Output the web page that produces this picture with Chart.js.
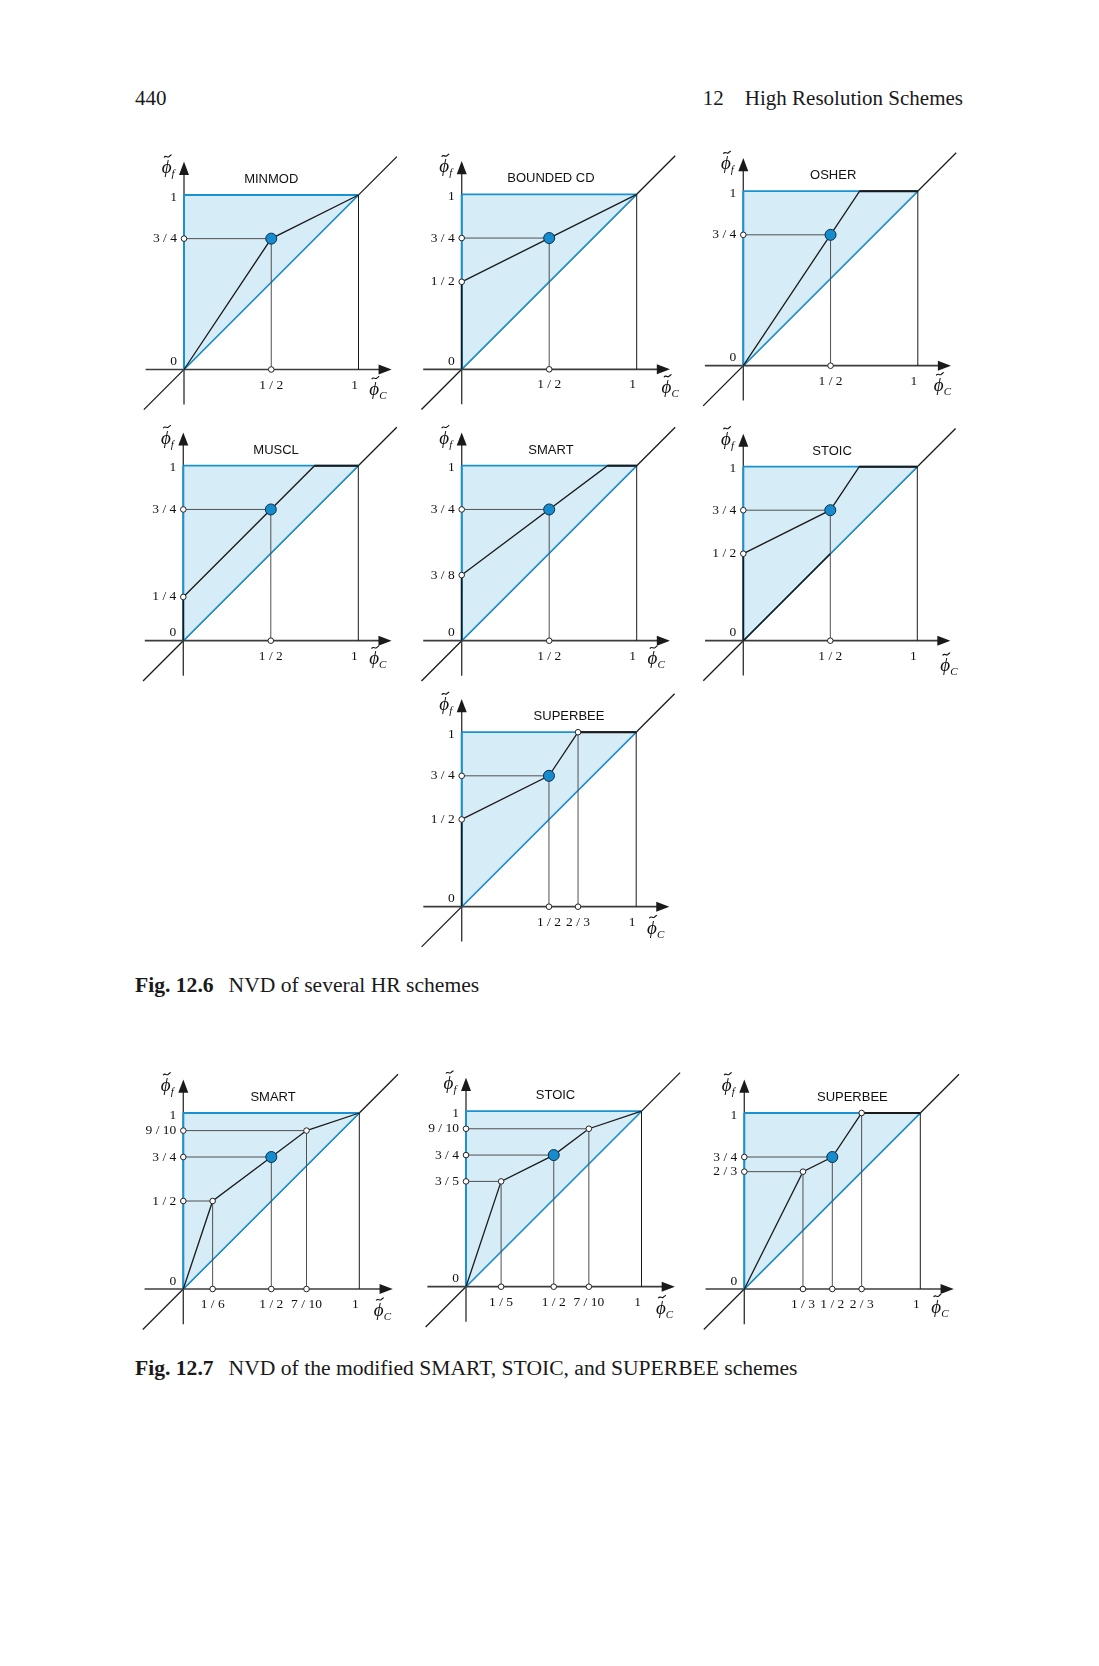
<!DOCTYPE html>
<html><head><meta charset="utf-8">
<script src="https://cdn.jsdelivr.net/npm/chart.js@4.4.1/dist/chart.umd.min.js"></script>
<style>
html,body{margin:0;padding:0;background:#fff;}
body{width:1099px;height:1666px;position:relative;overflow:hidden;font-family:"Liberation Serif","Times New Roman",serif;color:#1a1a1a;}
.t{position:absolute;white-space:pre;line-height:1;}
canvas{position:absolute;display:block;}
</style></head><body>
<div class="t" style="left:135px;top:88px;font-size:21px;">440</div>
<div class="t" style="right:136px;top:88px;font-size:21px;">12<span style="display:inline-block;width:21px"></span>High Resolution Schemes</div>
<div class="t" style="left:135px;top:975px;font-size:21.6px;"><b>Fig. 12.6</b><span style="display:inline-block;width:15px"></span>NVD of several HR schemes</div>
<div class="t" style="left:135px;top:1358px;font-size:21.6px;"><b>Fig. 12.7</b><span style="display:inline-block;width:15px"></span>NVD of the modified SMART, STOIC, and SUPERBEE schemes</div>
<script>
// ---------------- DATA ----------------
const titles = ['MINMOD','BOUNDED CD','OSHER','MUSCL','SMART','STOIC','SUPERBEE','SMART','STOIC','SUPERBEE'];

// scheme curves (phi_C -> phi_f)
const minmodX = [0, 0.5, 1],            minmodY = [0, 0.75, 1];
const boundedX = [0, 0.5, 1],           boundedY = [0.5, 0.75, 1];
const osherX = [0, 2/3, 1],             osherY = [0, 1, 1];
const musclX = [0, 0.75, 1],            musclY = [0.25, 1, 1];
const smartX = [0, 5/6, 1],             smartY = [0.375, 1, 1];
const stoicX = [0, 0.5, 2/3, 1],        stoicY = [0.5, 0.75, 1, 1];
const superbeeX = [0, 0.5, 2/3, 1],     superbeeY = [0.5, 0.75, 1, 1];
const smartModX = [0, 1/6, 0.5, 0.7, 1],     smartModY = [0, 0.5, 0.75, 0.9, 1];
const stoicModX = [0, 0.2, 0.5, 0.7, 1],     stoicModY = [0, 0.6, 0.75, 0.9, 1];
const superbeeModX = [0, 1/3, 0.5, 2/3, 1],  superbeeModY = [0, 2/3, 0.75, 1, 1];

// guide points (dropped to the axes)
const minmodGX = [0.5],   minmodGY = [0.75];
const boundedGX = [0.5],  boundedGY = [0.75];
const osherGX = [0.5],    osherGY = [0.75];
const musclGX = [0.5],    musclGY = [0.75];
const smartGX = [0.5],    smartGY = [0.75];
const stoicGX = [0.5],    stoicGY = [0.75];
const superbeeGX = [0.5, 2/3],  superbeeGY = [0.75, 1];
const smartModGX = [1/6, 0.5, 0.7],    smartModGY = [0.5, 0.75, 0.9];
const stoicModGX = [0.2, 0.5, 0.7],    stoicModGY = [0.6, 0.75, 0.9];
const superbeeModGX = [1/3, 0.5, 2/3], superbeeModGY = [2/3, 0.75, 1];

// the highlighted point
const focusX = [0.5], focusY = [0.75];

// tick values / labels
const yTicksA = [1, 0.75, 0],            yLabelsA = ['1', '3 / 4', '0'];
const yTicksB = [1, 0.75, 0.5, 0],       yLabelsB = ['1', '3 / 4', '1 / 2', '0'];
const yTicksM = [1, 0.75, 0.25, 0],      yLabelsM = ['1', '3 / 4', '1 / 4', '0'];
const yTicksS = [1, 0.75, 0.375, 0],     yLabelsS = ['1', '3 / 4', '3 / 8', '0'];
const yTicksSm = [1, 0.9, 0.75, 0.5, 0], yLabelsSm = ['1', '9 / 10', '3 / 4', '1 / 2', '0'];
const yTicksSt = [1, 0.9, 0.75, 0.6, 0], yLabelsSt = ['1', '9 / 10', '3 / 4', '3 / 5', '0'];
const yTicksSb = [1, 0.75, 2/3, 0],      yLabelsSb = ['1', '3 / 4', '2 / 3', '0'];
const xTicksA = [0.5, 1],                xLabelsA = ['1 / 2', '1'];
const xTicksSB = [0.5, 2/3, 1],          xLabelsSB = ['1 / 2', '2 / 3', '1'];
const xTicksSm = [1/6, 0.5, 0.7, 1],     xLabelsSm = ['1 / 6', '1 / 2', '7 / 10', '1'];
const xTicksSt = [0.2, 0.5, 0.7, 1],     xLabelsSt = ['1 / 5', '1 / 2', '7 / 10', '1'];
const xTicksSbm = [1/3, 0.5, 2/3, 1],    xLabelsSbm = ['1 / 3', '1 / 2', '2 / 3', '1'];

// ---------------- LAYOUT / STYLE ----------------
const panelOX = [184, 461.7, 743.3, 183.3, 461.7, 743.3, 461.7, 183.3, 466, 744.3];
const panelOY = [369.5, 369.3, 365.7, 640.7, 640.7, 640.7, 906.7, 1289, 1286.7, 1289];
const panelU  = [174.5, 175, 174.5, 175, 175, 174, 174.5, 176, 175.5, 176];
const titlePX = [0.50, 0.51, 0.515, 0.53, 0.51, 0.51, 0.615, 0.51, 0.51, 0.614];
const phiCPX  = [1.09, 1.17, 1.12, 1.09, 1.09, 1.16, 1.09, 1.11, 1.11, 1.09];
const phiCPY  = [-0.11, -0.10, -0.11, -0.10, -0.10, -0.14, -0.12, -0.12, -0.12, -0.10];
const darkDiagEnd = [0, 0, 0, 0, 0, 0.5, 0, 0, 0, 0];

const BLUE = '#1a92d2', FILL = '#d6ecf7', DARK = '#1a1a1a', AXIS = '#3c3c3c', GUIDE = '#505050';

const panels = [
  [minmodX, minmodY, minmodGX, minmodGY, yTicksA, yLabelsA, xTicksA, xLabelsA],
  [boundedX, boundedY, boundedGX, boundedGY, yTicksB, yLabelsB, xTicksA, xLabelsA],
  [osherX, osherY, osherGX, osherGY, yTicksA, yLabelsA, xTicksA, xLabelsA],
  [musclX, musclY, musclGX, musclGY, yTicksM, yLabelsM, xTicksA, xLabelsA],
  [smartX, smartY, smartGX, smartGY, yTicksS, yLabelsS, xTicksA, xLabelsA],
  [stoicX, stoicY, stoicGX, stoicGY, yTicksB, yLabelsB, xTicksA, xLabelsA],
  [superbeeX, superbeeY, superbeeGX, superbeeGY, yTicksB, yLabelsB, xTicksSB, xLabelsSB],
  [smartModX, smartModY, smartModGX, smartModGY, yTicksSm, yLabelsSm, xTicksSm, xLabelsSm],
  [stoicModX, stoicModY, stoicModGX, stoicModGY, yTicksSt, yLabelsSt, xTicksSt, xLabelsSt],
  [superbeeModX, superbeeModY, superbeeModGX, superbeeModGY, yTicksSb, yLabelsSb, xTicksSbm, xLabelsSbm]
];

function line(xs, ys, color, w, extra) {
  return Object.assign({
    data: xs.map((x, i) => ({x: x, y: ys[i]})),
    showLine: true, borderColor: color, borderWidth: w,
    pointRadius: 0, pointHoverRadius: 0, fill: false, tension: 0, clip: false
  }, extra || {});
}

function drawPhi(ctx, x, y, sub) {
  ctx.fillStyle = '#111';
  ctx.strokeStyle = '#111';
  ctx.font = 'italic 19px "Liberation Serif", "DejaVu Serif", serif';
  ctx.textAlign = 'center'; ctx.textBaseline = 'alphabetic';
  ctx.fillText('\u03D5', x, y + 6);
  ctx.lineWidth = 1.1;
  ctx.beginPath();
  ctx.moveTo(x - 2.5, y - 9.5);
  ctx.bezierCurveTo(x - 1, y - 12.5, x + 1, y - 9, x + 2.5, y - 10.5);
  ctx.bezierCurveTo(x + 3.5, y - 11.5, x + 4.5, y - 12, x + 5, y - 12.5);
  ctx.stroke();
  ctx.font = 'italic 11px "Liberation Serif", serif';
  ctx.textAlign = 'left';
  ctx.fillText(sub, x + 5, y + 10);
}

function decorPlugin(idx, yt, yl, xt, xl) {
  return {
    id: 'decor' + idx,
    afterDatasetsDraw(chart) {
      const ctx = chart.ctx, sx = chart.scales.x, sy = chart.scales.y;
      const X = v => sx.getPixelForValue(v), Y = v => sy.getPixelForValue(v);
      ctx.save();
      ctx.fillStyle = DARK;
      ctx.beginPath(); ctx.moveTo(X(1.19), Y(0)); ctx.lineTo(X(1.115), Y(0) - 5); ctx.lineTo(X(1.115), Y(0) + 5); ctx.closePath(); ctx.fill();
      ctx.beginPath(); ctx.moveTo(X(0), Y(1.19)); ctx.lineTo(X(0) - 5, Y(1.115)); ctx.lineTo(X(0) + 5, Y(1.115)); ctx.closePath(); ctx.fill();
      ctx.fillStyle = '#111';
      ctx.font = '13px "Liberation Sans", Arial, sans-serif';
      ctx.textAlign = 'center'; ctx.textBaseline = 'middle';
      ctx.fillText(titles[idx], X(titlePX[idx]), Y(1.088));
      ctx.font = '13.5px "Liberation Serif", "Times New Roman", serif';
      ctx.textAlign = 'right';
      yt.forEach((v, i) => {
        let py = Y(v);
        if (v === 0) py -= 8; else if (v === 1) py += 2;
        ctx.fillText(yl[i], X(0) - 7, py);
      });
      ctx.textAlign = 'center';
      xt.forEach((v, i) => {
        let px = X(v);
        if (v === 1) px -= 4;
        ctx.fillText(xl[i], px, Y(0) + 15.5);
      });
      drawPhi(ctx, X(-0.1), Y(1.16), 'f');
      drawPhi(ctx, X(phiCPX[idx]), Y(phiCPY[idx]), 'C');
      ctx.restore();
    }
  };
}

panels.forEach((p, idx) => {
  const [cx, cy, gx, gy, yt, yl, xt, xl] = p;
  const u = panelU[idx], ox = panelOX[idx], oy = panelOY[idx];
  const W = Math.round(1.8 * u), H = Math.round(1.8 * u);
  const left = Math.round(ox - 0.4 * u), top = Math.round(oy - 1.4 * u);
  const xmin = (left - ox) / u, xmax = xmin + W / u;
  const ymax = (oy - top) / u, ymin = ymax - H / u;
  const cv = document.createElement('canvas');
  cv.width = W; cv.height = H;
  cv.style.left = left + 'px'; cv.style.top = top + 'px';
  cv.style.width = W + 'px'; cv.style.height = H + 'px';
  document.body.appendChild(cv);

  const layers = [];
  layers.push(line([-0.23, 1.22], [-0.23, 1.22], DARK, 1.3));
  layers.push(line([0, 1], [0, 1], BLUE, 1.6, {fill: {value: 1}, backgroundColor: FILL}));
  layers.push(line([-0.22, 1.12], [0, 0], AXIS, 1.7));
  layers.push(line([0, 0], [-0.2, 1.12], AXIS, 1.4));
  layers.push(line([0, 1], [1, 1], BLUE, 1.8));
  layers.push(line([0, 0], [0, 1], BLUE, 2));
  layers.push(line([1, 1], [0, 1], DARK, 1));
  gx.forEach((x, i) => {
    layers.push(line([x, x], [0, gy[i]], GUIDE, 1));
    if (gy[i] < 1) layers.push(line([0, x], [gy[i], gy[i]], GUIDE, 1));
  });
  if (cx[0] === 0 && cy[0] > 0) layers.push(line([0, 0], [0, cy[0]], DARK, 1.6));
  if (darkDiagEnd[idx] > 0) layers.push(line([0, darkDiagEnd[idx]], [0, darkDiagEnd[idx]], DARK, 1.5));
  layers.push(line(cx, cy, DARK, 1.3));
  if (cy[cy.length - 2] === 1) layers.push(line(cx.slice(-2), cy.slice(-2), DARK, 2));
  // open circles
  const ox_ = [], oy_ = [];
  yt.forEach(v => { if (v > 0 && v < 1) { ox_.push(0); oy_.push(v); } });
  xt.forEach(v => { if (v > 0 && v < 1) { ox_.push(v); oy_.push(0); } });
  gx.forEach((x, i) => { if (!(x === focusX[0] && gy[i] === focusY[0])) { ox_.push(x); oy_.push(gy[i]); } });
  layers.push({data: ox_.map((x, i) => ({x: x, y: oy_[i]})), showLine: false, pointRadius: 2.8,
    pointBackgroundColor: '#ffffff', pointBorderColor: '#222', pointBorderWidth: 1, clip: false});
  layers.push({data: focusX.map((x, i) => ({x: x, y: focusY[i]})), showLine: false, pointRadius: 5.5,
    pointBackgroundColor: '#168cce', pointBorderColor: '#0c2f47', pointBorderWidth: 1, clip: false});
  layers.forEach((d, i) => { d.order = layers.length - i; });

  new Chart(cv, {
    type: 'scatter',
    data: {datasets: layers},
    options: {
      responsive: false, maintainAspectRatio: false, animation: false, devicePixelRatio: 1,
      events: [],
      layout: {padding: 0, autoPadding: false},
      scales: {
        x: {type: 'linear', min: xmin, max: xmax, display: false},
        y: {type: 'linear', min: ymin, max: ymax, display: false}
      },
      plugins: {legend: {display: false}, tooltip: {enabled: false}}
    },
    plugins: [decorPlugin(idx, yt, yl, xt, xl)]
  });
});
</script>
</body></html>
